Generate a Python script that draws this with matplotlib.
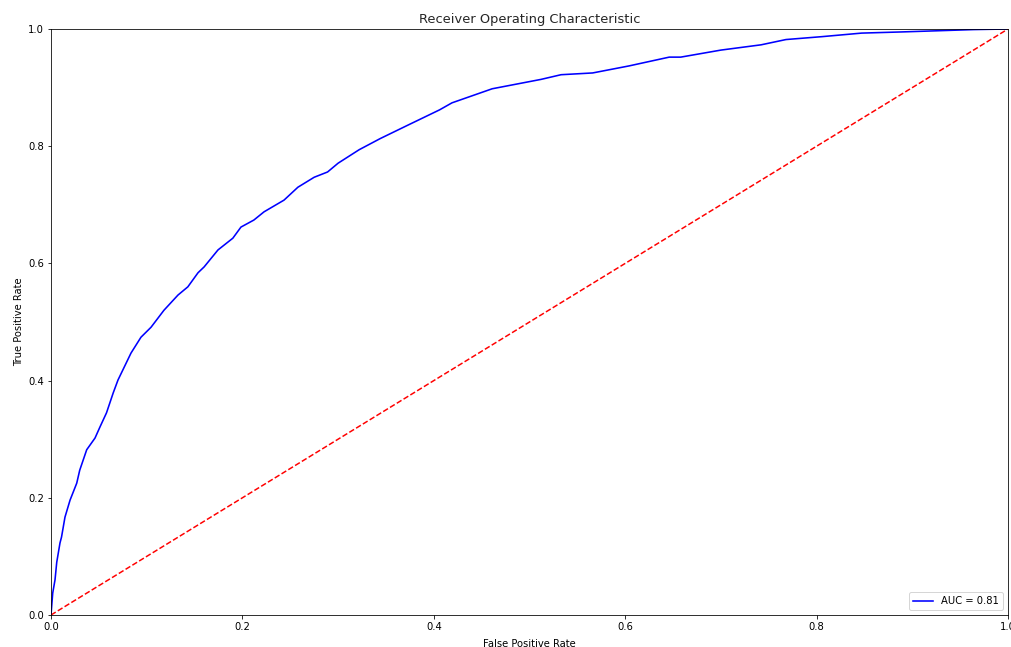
import matplotlib
matplotlib.use("Agg")
import matplotlib.pyplot as plt

fpr = [0.0, 0.0018, 0.0042, 0.006, 0.0094, 0.011, 0.0146, 0.0199, 0.0269, 0.030,
       0.0373, 0.046, 0.0512, 0.058, 0.065, 0.070, 0.0836, 0.094, 0.1045, 0.118,
       0.1327, 0.143, 0.1536, 0.16, 0.1745, 0.190, 0.1985, 0.212, 0.2226, 0.2435,
       0.258, 0.275, 0.289, 0.300, 0.322, 0.344, 0.373, 0.406, 0.419, 0.461,
       0.512, 0.533, 0.566, 0.604, 0.646, 0.658, 0.700, 0.742, 0.768, 0.806,
       0.847, 0.889, 0.964, 1.0]
tpr = [0.0, 0.0375, 0.060, 0.090, 0.123, 0.133, 0.167, 0.196, 0.225, 0.247,
       0.282, 0.302, 0.321, 0.345, 0.379, 0.401, 0.447, 0.474, 0.491, 0.520,
       0.546, 0.560, 0.584, 0.594, 0.623, 0.643, 0.662, 0.674, 0.688, 0.708,
       0.730, 0.747, 0.756, 0.771, 0.794, 0.813, 0.836, 0.862, 0.874, 0.898,
       0.914, 0.922, 0.925, 0.937, 0.952, 0.952, 0.964, 0.973, 0.982, 0.987,
       0.993, 0.995, 0.999, 1.0]
diag = [0, 1]
auc_label = "AUC = 0.81"

W, H = 1011, 647
fig = plt.figure(figsize=(W / 72, H / 72), dpi=72)
ax = fig.add_axes([51 / W, (H - 615) / H, (1008 - 51) / W, (615 - 29) / H])
ax.plot(fpr, tpr, 'b', label=auc_label, linewidth=1.6)
ax.plot(diag, diag, 'r--', linewidth=1.5)
ax.set_xlim(0, 1)
ax.set_ylim(0, 1)
ax.set_title("Receiver Operating Characteristic", fontsize=13, color='#262626')
ax.set_xlabel("False Positive Rate", fontsize=10, labelpad=7)
ax.set_ylabel("True Positive Rate", fontsize=10)
ax.tick_params(labelsize=10)
ax.legend(loc='lower right', fontsize=10)
fig.savefig("out.png", dpi=72)
